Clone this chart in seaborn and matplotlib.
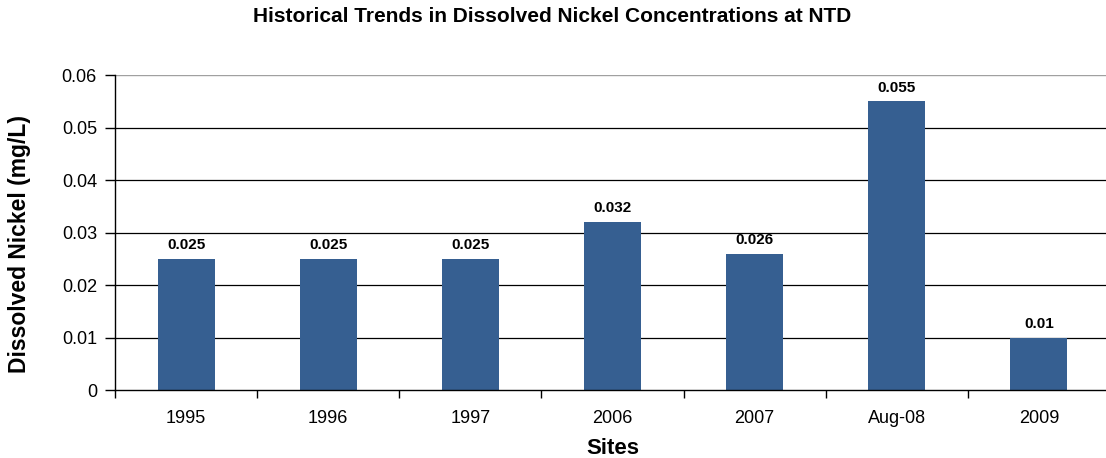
import matplotlib
matplotlib.use("Agg")
import matplotlib.pyplot as plt
import seaborn as sns
import pandas as pd

categories = ["1995", "1996", "1997", "2006", "2007", "Aug-08", "2009"]
values = [0.025, 0.025, 0.025, 0.032, 0.026, 0.055, 0.01]
value_labels = ["0.025", "0.025", "0.025", "0.032", "0.026", "0.055", "0.01"]
yticks = [0, 0.01, 0.02, 0.03, 0.04, 0.05, 0.06]
ytick_labels = ["0", "0.01", "0.02", "0.03", "0.04", "0.05", "0.06"]

sns.set_style("white")
plt.rcParams['font.family'] = ['Liberation Sans', 'DejaVu Sans']
plt.rcParams['text.color'] = 'black'
plt.rcParams['axes.labelcolor'] = 'black'
plt.rcParams['xtick.color'] = 'black'
plt.rcParams['ytick.color'] = 'black'

df = pd.DataFrame({"Sites": categories, "Value": values})

fig = plt.figure(figsize=(11.06, 4.58), dpi=100)
# plot area extends slightly past the right edge, as in the reference
ax = fig.add_axes([0.104, 0.148, 0.8996, 0.688])
sns.barplot(data=df, x="Sites", y="Value", color="#365F91", width=0.4,
            saturation=1, ax=ax, edgecolor="none")

ax.set_ylim(0, 0.06)
ax.set_xlim(-0.5, len(categories) - 0.5)
ax.set_yticks(yticks)
ax.set_yticklabels(ytick_labels, fontsize=13)
ax.set_axisbelow(True)
for y in yticks[1:-1]:
    ax.axhline(y, color="black", lw=0.9, zorder=0)
ax.axhline(0.06, color="#A0A0A0", lw=1.0, zorder=0)

# category ticks between bars
ax.set_xticks(range(len(categories)))
ax.set_xticklabels(categories, fontsize=13)
ax.tick_params(axis="x", which="major", bottom=True, length=0, pad=14)
ax.set_xticks([i - 0.5 for i in range(len(categories) + 1)], minor=True)
ax.tick_params(axis="x", which="minor", bottom=True, length=6, width=1,
               color="black", direction="out")
ax.tick_params(axis="y", left=True, length=7, width=1, color="black",
               direction="out", pad=6)

for s in ["top", "right"]:
    ax.spines[s].set_visible(False)
for s in ["left", "bottom"]:
    ax.spines[s].set_color("black")
    ax.spines[s].set_linewidth(1)

for i, (v, lab) in enumerate(zip(values, value_labels)):
    ax.text(i, v + 0.0013, lab, ha="center", va="bottom", fontsize=11, fontweight="bold")

ax.set_xlabel("Sites", fontsize=16, fontweight="bold", labelpad=8)
ax.set_ylabel("Dissolved Nickel (mg/L)", fontsize=16.5, fontweight="bold")
ax.yaxis.set_label_coords(-0.084, 0.465)
fig.suptitle("Historical Trends in Dissolved Nickel Concentrations at NTD",
             fontsize=15, fontweight="bold", x=0.499, y=0.985)

fig.savefig("out.png", dpi=100)
